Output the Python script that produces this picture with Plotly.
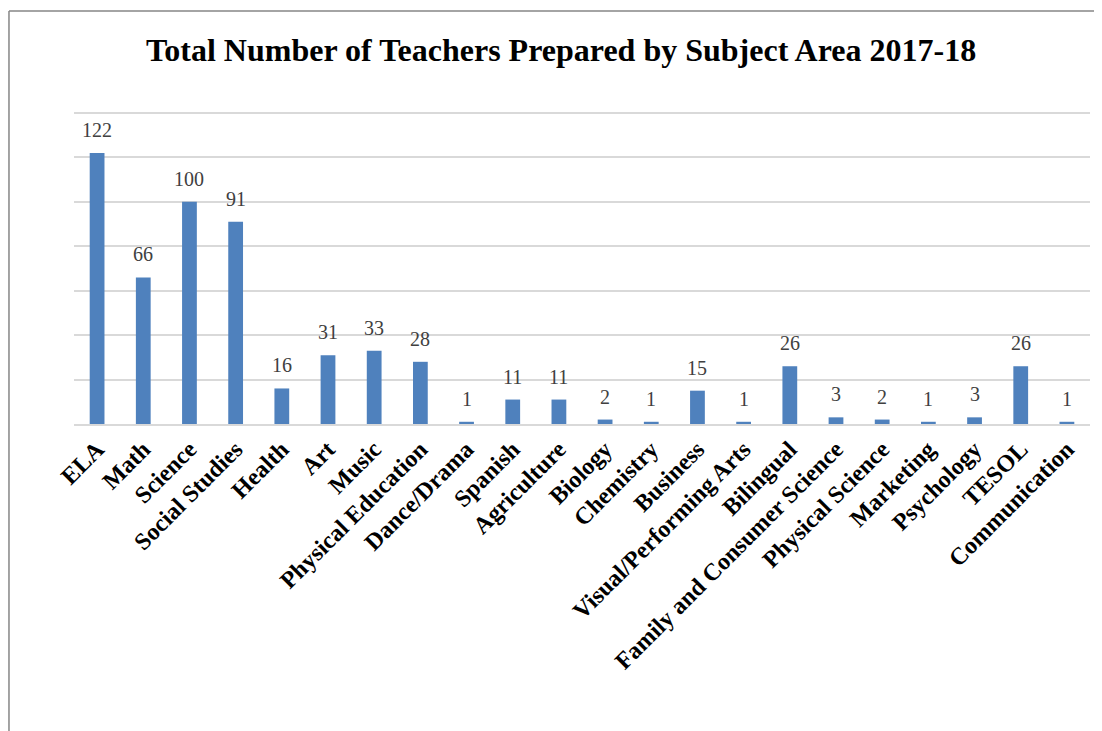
import plotly.graph_objects as go

categories = ["ELA", "Math", "Science", "Social Studies", "Health", "Art", "Music",
              "Physical Education", "Dance/Drama", "Spanish", "Agriculture", "Biology",
              "Chemistry", "Business", "Visual/Performing Arts", "Bilingual",
              "Family and Consumer Science", "Physical Science", "Marketing",
              "Psychology", "TESOL", "Communication"]
values = [122, 66, 100, 91, 16, 31, 33, 28, 1, 11, 11, 2, 1, 15, 1, 26, 3, 2, 1, 3, 26, 1]
bar_heights = [122, 66, 100, 91, 16, 31, 33, 28, 1, 11, 11, 2, 1, 15, 1, 26, 3, 2, 1, 3, 26, 1]
title = "Total Number of Teachers Prepared by Subject Area 2017-18"

fig = go.Figure()
fig.add_trace(go.Bar(x=categories, y=bar_heights, marker_color="#4F81BD",
                     marker_line_width=0, hoverinfo="skip"))

for c, v, h in zip(categories, values, bar_heights):
    fig.add_annotation(x=c, y=h, text=str(v), showarrow=False, yanchor="bottom",
                       yshift=10, font=dict(family="Liberation Serif", size=20, color="#404040"))

fig.update_layout(
    width=1094, height=723,
    margin=dict(l=66, r=12, t=101, b=307, autoexpand=False),
    paper_bgcolor="white", plot_bgcolor="white",
    bargap=0.68,
    showlegend=False,
    title=dict(text="<b>" + title + "</b>", x=0.5055, xanchor="center", y=0.942, yanchor="middle",
               font=dict(family="Liberation Serif", size=32, color="black")),
    xaxis=dict(tickangle=-45, automargin=False,
               tickfont=dict(family="Liberation Serif", size=24, color="black", weight="bold"),
               showline=True, linecolor="#d9d9d9", linewidth=1.5, ticks="", showgrid=False),
    yaxis=dict(range=[0, 141.8], dtick=20, showticklabels=False, showgrid=True, automargin=False,
               gridcolor="#d9d9d9", gridwidth=1.5, zeroline=False, ticks=""),
)

# outer border (left and top)
fig.add_shape(type="line", xref="paper", yref="paper", x0=-0.064, x1=-0.064, y0=1.311, y1=-1.0,
              line=dict(color="#868686", width=1.5))
fig.add_shape(type="line", xref="paper", yref="paper", x0=-0.064, x1=1.02, y0=1.311, y1=1.311,
              line=dict(color="#868686", width=1.5))

fig.write_html("out.html")
